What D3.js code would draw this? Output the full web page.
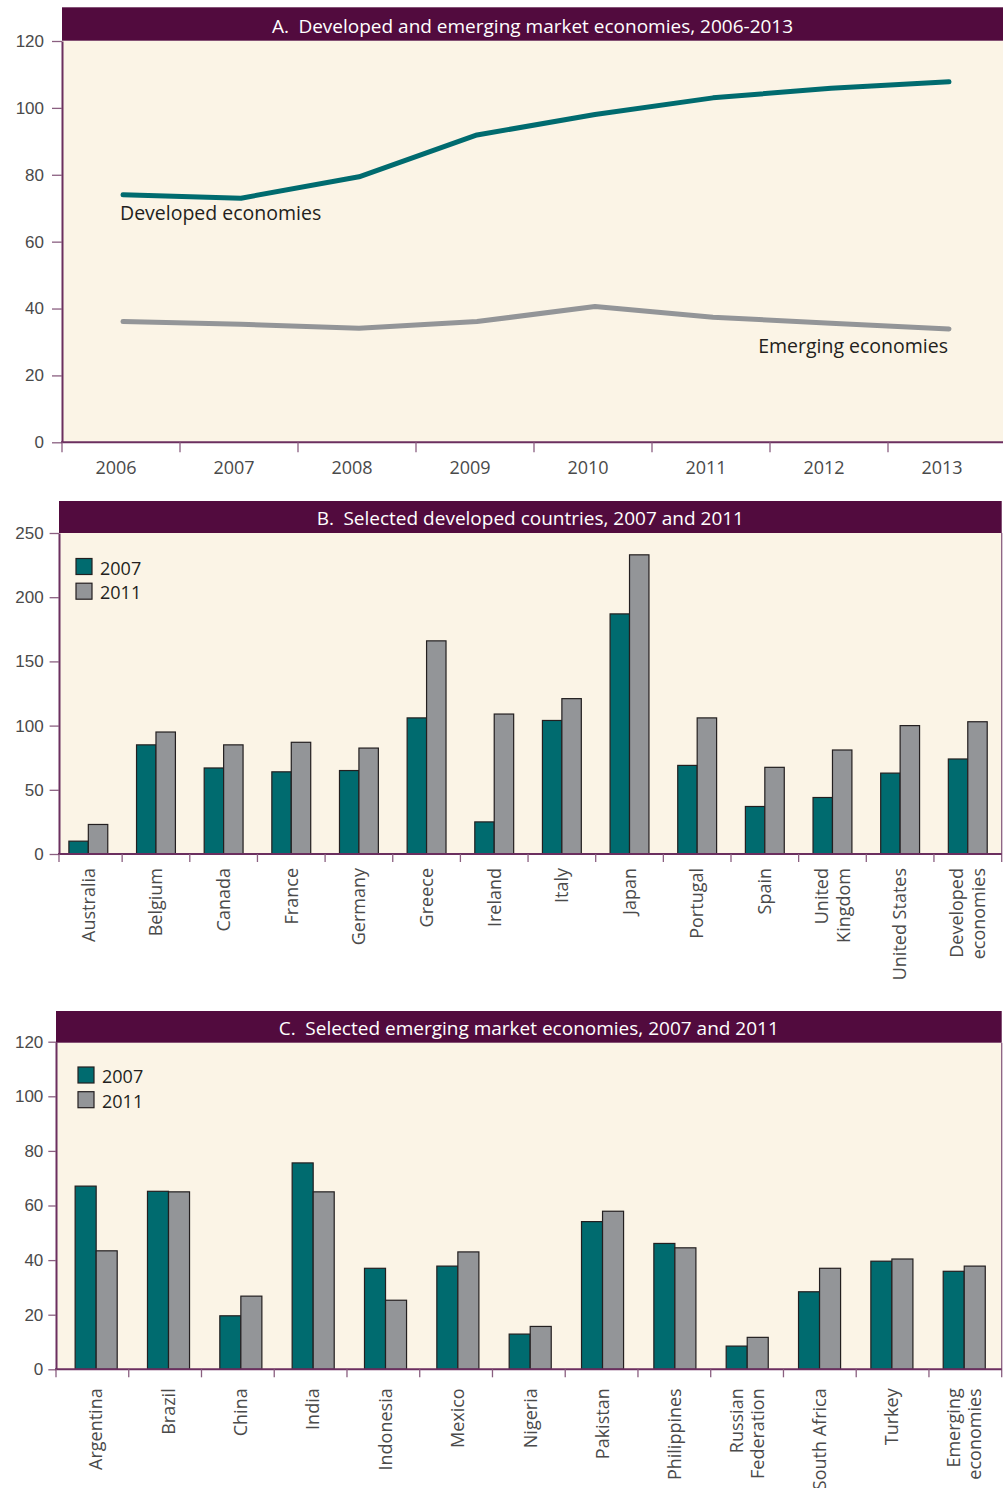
<!DOCTYPE html>
<html>
<head>
<meta charset="utf-8">
<script src="https://cdn.jsdelivr.net/npm/d3@7"></script>
<style>
  body { margin: 0; background: #fff; }
  svg { display: block; font-family: "Open Sans", "Noto Sans", sans-serif; }
  .tick text { fill: #4a4a4a; font-size: 17px; }
</style>
</head>
<body>
<div id="chart"></div>
<script>
// Panel A data
var yearsA = ["2006", "2007", "2008", "2009", "2010", "2011", "2012", "2013"];
var developedA = [74, 73, 79.4, 91.9, 98, 103, 105.9, 107.8];
var emergingA = [36.1, 35.3, 34.1, 36.1, 40.6, 37.4, 35.6, 33.9];
var ticksA = [0, 20, 40, 60, 80, 100, 120];

// Panel B data
var countriesB = ["Australia", "Belgium", "Canada", "France", "Germany", "Greece", "Ireland",
  "Italy", "Japan", "Portugal", "Spain", "United\nKingdom", "United States", "Developed\neconomies"];
var b2007 = [10, 85, 67, 64, 65, 106, 25, 104, 187, 69, 37, 44, 63, 74];
var b2011 = [23, 95, 85, 87, 82.5, 166, 109, 121, 233, 106, 67.5, 81, 100, 103];
var ticksB = [0, 50, 100, 150, 200, 250];

// Panel C data
var countriesC = ["Argentina", "Brazil", "China", "India", "Indonesia", "Mexico", "Nigeria",
  "Pakistan", "Philippines", "Russian\nFederation", "South Africa", "Turkey", "Emerging\neconomies"];
var c2007 = [67.1, 65.2, 19.6, 75.6, 37, 37.8, 12.9, 54.1, 46.1, 8.5, 28.4, 39.6, 35.9];
var c2011 = [43.4, 65, 26.8, 65, 25.3, 43, 15.7, 57.9, 44.5, 11.7, 37, 40.4, 37.8];
var ticksC = [0, 20, 40, 60, 80, 100, 120];

var seriesNames = ["2007", "2011"];

var teal = "#006b6f";
var grey = "#939598";
var plum = "#520b3e";
var cream = "#fbf4e6";
var axisColor = "#6b2f5f";
var tickColor = "#8a5f80";

var svg = d3.select("#chart")
  .append("svg")
  .attr("width", 1003)
  .attr("height", 1488);

function titleBar(x0, x1, y0, y1, label) {
  svg.append("rect")
    .attr("x", x0).attr("y", y0)
    .attr("width", x1 - x0).attr("height", y1 - y0)
    .attr("fill", plum);
  svg.append("text")
    .attr("x", (x0 + x1) / 2)
    .attr("y", y1 - 8)
    .attr("text-anchor", "middle")
    .attr("fill", "#fff")
    .attr("font-size", "19px")
    .text(label);
}

function yAxis(y, x0, ticks, size, pad) {
  var g = svg.append("g")
    .attr("transform", `translate(${x0}, 0)`)
    .call(d3.axisLeft(y).tickValues(ticks).tickSize(size).tickSizeOuter(0).tickPadding(pad));
  g.select(".domain").attr("stroke", axisColor).attr("stroke-width", 2);
  g.selectAll(".tick line").attr("stroke", tickColor).attr("stroke-width", 1.3);
  return g;
}

// ---------- Panel A ----------
var A = { left: 62, right: 1003, top: 40.7, bottom: 442.3 };

svg.append("rect")
  .attr("x", A.left).attr("y", A.top)
  .attr("width", A.right - A.left).attr("height", A.bottom - A.top)
  .attr("fill", cream);
titleBar(A.left, A.right, 7.3, A.top, "A.\u2002Developed and emerging market economies, 2006-2013");

var xA = d3.scaleBand().domain(yearsA).range([62, 1006]);
var yA = d3.scaleLinear().domain([0, 120]).range([442.3, 41]);

yAxis(yA, A.left, ticksA, 10, 8);

svg.append("line")
  .attr("x1", A.left - 1).attr("x2", A.right)
  .attr("y1", A.bottom).attr("y2", A.bottom)
  .attr("stroke", axisColor).attr("stroke-width", 2);

svg.selectAll(".xtickA")
  .data(yearsA)
  .enter()
  .append("line")
  .attr("x1", d => xA(d)).attr("x2", d => xA(d))
  .attr("y1", A.bottom).attr("y2", A.bottom + 10)
  .attr("stroke", tickColor).attr("stroke-width", 1.3);

svg.selectAll(".yearLabel")
  .data(yearsA)
  .enter()
  .append("text")
  .attr("x", d => xA(d) + xA.bandwidth() / 2 - 5)
  .attr("y", 474)
  .attr("text-anchor", "middle")
  .attr("font-size", "18px")
  .attr("fill", "#4a4a4a")
  .text(d => d);

var lineA = d3.line()
  .x((d, i) => xA(yearsA[i]) + xA.bandwidth() / 2 + 2)
  .y(d => yA(d));

svg.append("path")
  .datum(emergingA)
  .attr("d", lineA)
  .attr("fill", "none")
  .attr("stroke", grey)
  .attr("stroke-width", 5)
  .attr("stroke-linecap", "round")
  .attr("stroke-linejoin", "round");

svg.append("path")
  .datum(developedA)
  .attr("d", lineA)
  .attr("fill", "none")
  .attr("stroke", teal)
  .attr("stroke-width", 5)
  .attr("stroke-linecap", "round")
  .attr("stroke-linejoin", "round");

svg.append("text")
  .attr("x", 120).attr("y", 220)
  .attr("font-size", "19.5px")
  .attr("fill", "#231f20")
  .text("Developed economies");

svg.append("text")
  .attr("x", 948).attr("y", 353)
  .attr("text-anchor", "end")
  .attr("font-size", "19.5px")
  .attr("fill", "#231f20")
  .text("Emerging economies");

// ---------- Bar panels ----------
function barPanel(p) {
  svg.append("rect")
    .attr("x", p.left).attr("y", p.top)
    .attr("width", p.right - p.left).attr("height", p.bottom - p.top)
    .attr("fill", cream);
  titleBar(p.left, p.right, p.titleTop, p.top, p.title);

  var y = d3.scaleLinear().domain([0, p.max]).range([p.bottom, p.yTop]);
  var xTick = d3.scaleBand().domain(p.cats).range(p.tickRange);
  var x = d3.scaleBand().domain(p.cats).range(p.barRange);
  var xSub = d3.scaleBand().domain(seriesNames)
    .range([0, x.bandwidth()]).paddingInner(0).paddingOuter(p.pad);

  // right border
  svg.append("line")
    .attr("x1", p.right).attr("x2", p.right)
    .attr("y1", p.top).attr("y2", p.bottom + 8)
    .attr("stroke", tickColor).attr("stroke-width", 1.3);

  yAxis(y, p.left, p.ticks, p.tickSize, p.tickPad);

  var groups = svg.selectAll(".grp" + p.id)
    .data(p.cats)
    .enter()
    .append("g")
    .attr("transform", d => `translate(${x(d)}, 0)`);

  groups.selectAll("rect")
    .data((d, i) => [{ s: "2007", v: p.v2007[i] }, { s: "2011", v: p.v2011[i] }])
    .enter()
    .append("rect")
    .attr("x", d => xSub(d.s))
    .attr("y", d => y(d.v))
    .attr("width", xSub.bandwidth())
    .attr("height", d => p.bottom - y(d.v))
    .attr("fill", d => d.s === "2007" ? teal : grey)
    .attr("stroke", "#231f20")
    .attr("stroke-width", 1.2);

  svg.append("line")
    .attr("x1", p.left - 1).attr("x2", p.right)
    .attr("y1", p.bottom).attr("y2", p.bottom)
    .attr("stroke", axisColor).attr("stroke-width", 2);

  var tickXs = [p.left].concat(p.cats.slice(1).map(c => xTick(c)));
  svg.selectAll(".xtick" + p.id)
    .data(tickXs)
    .enter()
    .append("line")
    .attr("x1", d => d).attr("x2", d => d)
    .attr("y1", p.bottom).attr("y2", p.bottom + 8)
    .attr("stroke", tickColor).attr("stroke-width", 1.3);

  // rotated category labels
  var labels = svg.selectAll(".cat" + p.id)
    .data(p.cats)
    .enter()
    .append("text")
    .attr("transform", d => `translate(${x(d) + x.bandwidth() / 2}, ${p.labelTop}) rotate(-90)`)
    .attr("text-anchor", "end")
    .attr("font-size", "18px")
    .attr("fill", "#4a4a4a");

  labels.each(function(d) {
    var lines = d.split("\n");
    var t = d3.select(this);
    lines.forEach(function(line, i) {
      t.append("tspan")
        .attr("x", 0)
        .attr("dy", i === 0 ? (0.35 - (lines.length - 1) * 0.6) + "em" : "1.2em")
        .text(line);
    });
  });

  // legend
  seriesNames.forEach(function(s, i) {
    svg.append("rect")
      .attr("x", p.legendX).attr("y", p.legendY + i * 24.7)
      .attr("width", 16).attr("height", 16)
      .attr("fill", s === "2007" ? teal : grey)
      .attr("stroke", "#231f20")
      .attr("stroke-width", 1.2);
    svg.append("text")
      .attr("x", p.legendX + 24).attr("y", p.legendY + i * 24.7 + 16)
      .attr("font-size", "18px")
      .attr("fill", "#231f20")
      .text(s);
  });
}

barPanel({
  id: "B",
  title: "B.\u2002Selected developed countries, 2007 and 2011",
  cats: countriesB, v2007: b2007, v2011: b2011, ticks: ticksB, max: 250,
  left: 59, right: 1001.7, top: 533, bottom: 854, titleTop: 501, yTop: 533,
  tickRange: [54.5, 1001.6], barRange: [54.5, 1001.6], pad: 0.74,
  tickSize: 9.4, tickPad: 6, labelTop: 868,
  legendX: 76, legendY: 558.5
});

barPanel({
  id: "C",
  title: "C.\u2002Selected emerging market economies, 2007 and 2011",
  cats: countriesC, v2007: c2007, v2011: c2011, ticks: ticksC, max: 120,
  left: 56, right: 1001.7, top: 1042.7, bottom: 1369.3, titleTop: 1011, yTop: 1041.7,
  tickRange: [56, 1001.7], barRange: [60, 1000.4], pad: 0.72,
  tickSize: 7.7, tickPad: 5, labelTop: 1388.3,
  legendX: 78, legendY: 1067
});
</script>
</body>
</html>
